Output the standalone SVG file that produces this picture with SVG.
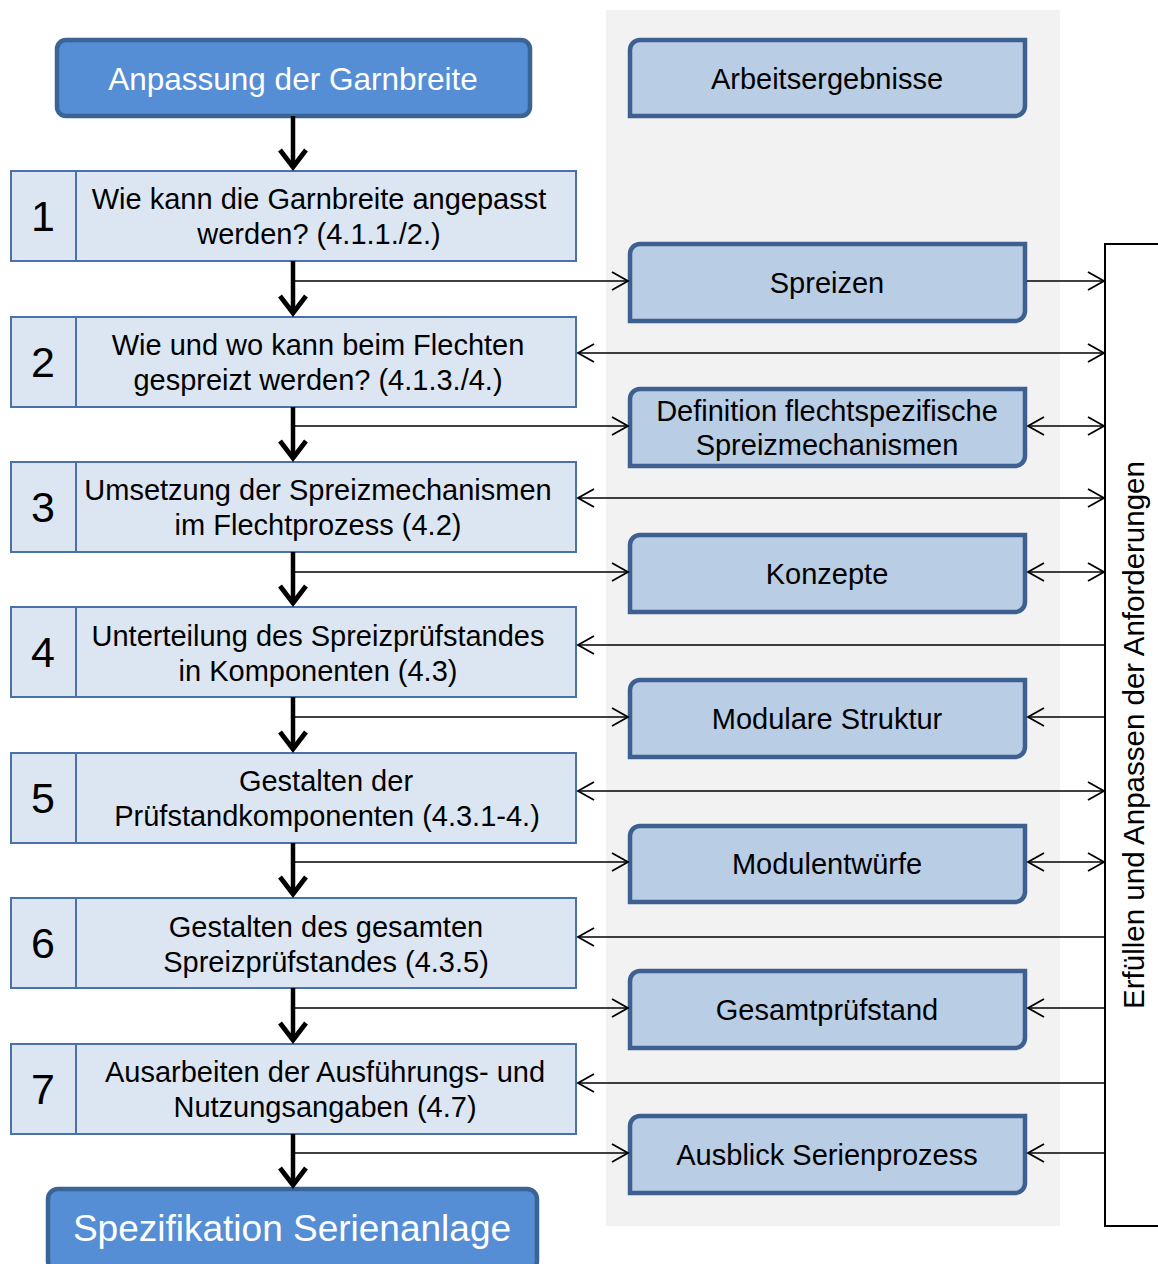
<svg xmlns="http://www.w3.org/2000/svg" width="1158" height="1264" viewBox="0 0 1158 1264">
<style>
text{font-family:"Liberation Sans",Arial,sans-serif;fill:#000}
.t{font-size:29px;text-anchor:middle}
.num{font-size:43px;text-anchor:middle}
.step{fill:#dce6f2;stroke:#4a72a8;stroke-width:2}
.res{fill:#b9cde5;stroke:#3d6090;stroke-width:4.5}
.main{fill:#558ed5;stroke:#3b6496;stroke-width:4.5}
.wt{fill:#fff;text-anchor:middle}
.c{fill:none;stroke:#000;stroke-width:1.7}
.m{fill:none;stroke:#000;stroke-width:4.5}
</style>
<defs>
<marker id="a" markerUnits="userSpaceOnUse" markerWidth="20" markerHeight="22" refX="17" refY="11" orient="auto-start-reverse">
<path d="M1,2 L17,11 L1,20" fill="none" stroke="#000" stroke-width="1.8"/>
</marker>
<marker id="b" markerUnits="userSpaceOnUse" markerWidth="26" markerHeight="32" refX="19" refY="15" orient="auto" overflow="visible">
<path d="M2,2 L19,15 L2,28" fill="none" stroke="#000" stroke-width="4.8"/>
</marker>
</defs>
<rect x="606" y="10" width="454" height="1216" fill="#f2f2f2"/>

<g id="start"><rect class="main" x="57" y="40" width="473" height="76" rx="9"/><text class="wt" x="293" y="90" font-size="31.5px">Anpassung der Garnbreite</text></g>

<g id="step1"><rect class="step" x="11" y="171" width="565" height="90"/><line x1="76" y1="171" x2="76" y2="261" stroke="#4a72a8" stroke-width="2"/><text class="num" x="43" y="231">1</text><text class="t" x="319" y="209">Wie kann die Garnbreite angepasst</text><text class="t" x="319" y="244">werden? (4.1.1./2.)</text></g>
<g id="step2"><rect class="step" x="11" y="317" width="565" height="90"/><line x1="76" y1="317" x2="76" y2="407" stroke="#4a72a8" stroke-width="2"/><text class="num" x="43" y="377">2</text><text class="t" x="318" y="355">Wie und wo kann beim Flechten</text><text class="t" x="318" y="390">gespreizt werden? (4.1.3./4.)</text></g>
<g id="step3"><rect class="step" x="11" y="462" width="565" height="90"/><line x1="76" y1="462" x2="76" y2="552" stroke="#4a72a8" stroke-width="2"/><text class="num" x="43" y="522">3</text><text class="t" x="318" y="500">Umsetzung der Spreizmechanismen</text><text class="t" x="318" y="535">im Flechtprozess (4.2)</text></g>
<g id="step4"><rect class="step" x="11" y="607" width="565" height="90"/><line x1="76" y1="607" x2="76" y2="697" stroke="#4a72a8" stroke-width="2"/><text class="num" x="43" y="667">4</text><text class="t" x="318" y="646">Unterteilung des Spreizprüfstandes</text><text class="t" x="318" y="681">in Komponenten (4.3)</text></g>
<g id="step5"><rect class="step" x="11" y="753" width="565" height="90"/><line x1="76" y1="753" x2="76" y2="843" stroke="#4a72a8" stroke-width="2"/><text class="num" x="43" y="813">5</text><text class="t" x="326" y="791">Gestalten der</text><text class="t" x="327" y="826">Prüfstandkomponenten (4.3.1-4.)</text></g>
<g id="step6"><rect class="step" x="11" y="898" width="565" height="90"/><line x1="76" y1="898" x2="76" y2="988" stroke="#4a72a8" stroke-width="2"/><text class="num" x="43" y="958">6</text><text class="t" x="326" y="937">Gestalten des gesamten</text><text class="t" x="326" y="972">Spreizprüfstandes (4.3.5)</text></g>
<g id="step7"><rect class="step" x="11" y="1044" width="565" height="90"/><line x1="76" y1="1044" x2="76" y2="1134" stroke="#4a72a8" stroke-width="2"/><text class="num" x="43" y="1104">7</text><text class="t" x="325" y="1082">Ausarbeiten der Ausführungs- und</text><text class="t" x="325" y="1117">Nutzungsangaben (4.7)</text></g>

<g id="end"><rect class="main" x="48" y="1189" width="489" height="82" rx="10"/><text class="wt" x="292" y="1241" font-size="37px">Spezifikation Serienanlage</text></g>

<g id="res0"><path class="res" d="M630,50 A10,10 0 0 1 640,40 H1025 V106 A10,10 0 0 1 1015,116 H630 Z"/><text class="t" x="827" y="89">Arbeitsergebnisse</text></g>
<g id="res1"><path class="res" d="M630,254 A10,10 0 0 1 640,244 H1025 V311 A10,10 0 0 1 1015,321 H630 Z"/><text class="t" x="827" y="293">Spreizen</text></g>
<g id="res2"><path class="res" d="M630,399 A10,10 0 0 1 640,389 H1025 V456 A10,10 0 0 1 1015,466 H630 Z"/><text class="t" x="827" y="421" font-size="28px">Definition flechtspezifische</text><text class="t" x="827" y="455" font-size="28px">Spreizmechanismen</text></g>
<g id="res3"><path class="res" d="M630,545 A10,10 0 0 1 640,535 H1025 V602 A10,10 0 0 1 1015,612 H630 Z"/><text class="t" x="827" y="584">Konzepte</text></g>
<g id="res4"><path class="res" d="M630,690 A10,10 0 0 1 640,680 H1025 V747 A10,10 0 0 1 1015,757 H630 Z"/><text class="t" x="827" y="729">Modulare Struktur</text></g>
<g id="res5"><path class="res" d="M630,836 A10,10 0 0 1 640,826 H1025 V892 A10,10 0 0 1 1015,902 H630 Z"/><text class="t" x="827" y="874">Modulentwürfe</text></g>
<g id="res6"><path class="res" d="M630,981 A10,10 0 0 1 640,971 H1025 V1038 A10,10 0 0 1 1015,1048 H630 Z"/><text class="t" x="827" y="1020">Gesamtprüfstand</text></g>
<g id="res7"><path class="res" d="M630,1126 A10,10 0 0 1 640,1116 H1025 V1183 A10,10 0 0 1 1015,1193 H630 Z"/><text class="t" x="827" y="1165">Ausblick Serienprozess</text></g>

<g id="bracket"><path d="M1158,244 H1105 V1226 H1158" fill="none" stroke="#000" stroke-width="2"/><text transform="translate(1144,735) rotate(-90)" font-size="29.5px" text-anchor="middle">Erfüllen und Anpassen der Anforderungen</text></g>

<g id="connectors">
<path class="m" d="M293,116 V167" marker-end="url(#b)"/>
<path class="m" d="M293,261 V313" marker-end="url(#b)"/>
<path class="m" d="M293,407 V458" marker-end="url(#b)"/>
<path class="m" d="M293,552 V603" marker-end="url(#b)"/>
<path class="m" d="M293,697 V749" marker-end="url(#b)"/>
<path class="m" d="M293,843 V894" marker-end="url(#b)"/>
<path class="m" d="M293,988 V1040" marker-end="url(#b)"/>
<path class="m" d="M293,1134 V1185" marker-end="url(#b)"/>

<path class="c" d="M293,281 H628" marker-end="url(#a)"/>
<path class="c" d="M1027,281 H1104" marker-end="url(#a)"/>
<path class="c" d="M578,353 H1104" marker-start="url(#a)" marker-end="url(#a)"/>
<path class="c" d="M293,426 H628" marker-end="url(#a)"/>
<path class="c" d="M1028,426 H1104" marker-start="url(#a)" marker-end="url(#a)"/>
<path class="c" d="M578,498 H1104" marker-start="url(#a)" marker-end="url(#a)"/>
<path class="c" d="M293,572 H628" marker-end="url(#a)"/>
<path class="c" d="M1028,572 H1104" marker-start="url(#a)" marker-end="url(#a)"/>
<path class="c" d="M1105,645 H578" marker-end="url(#a)"/>
<path class="c" d="M293,717 H628" marker-end="url(#a)"/>
<path class="c" d="M1105,717 H1028" marker-end="url(#a)"/>
<path class="c" d="M578,791 H1104" marker-start="url(#a)" marker-end="url(#a)"/>
<path class="c" d="M293,862 H628" marker-end="url(#a)"/>
<path class="c" d="M1028,862 H1104" marker-start="url(#a)" marker-end="url(#a)"/>
<path class="c" d="M1105,937 H578" marker-end="url(#a)"/>
<path class="c" d="M293,1008 H628" marker-end="url(#a)"/>
<path class="c" d="M1105,1008 H1028" marker-end="url(#a)"/>
<path class="c" d="M1105,1083 H578" marker-end="url(#a)"/>
<path class="c" d="M293,1153 H628" marker-end="url(#a)"/>
<path class="c" d="M1105,1153 H1028" marker-end="url(#a)"/>
</g>
</svg>
